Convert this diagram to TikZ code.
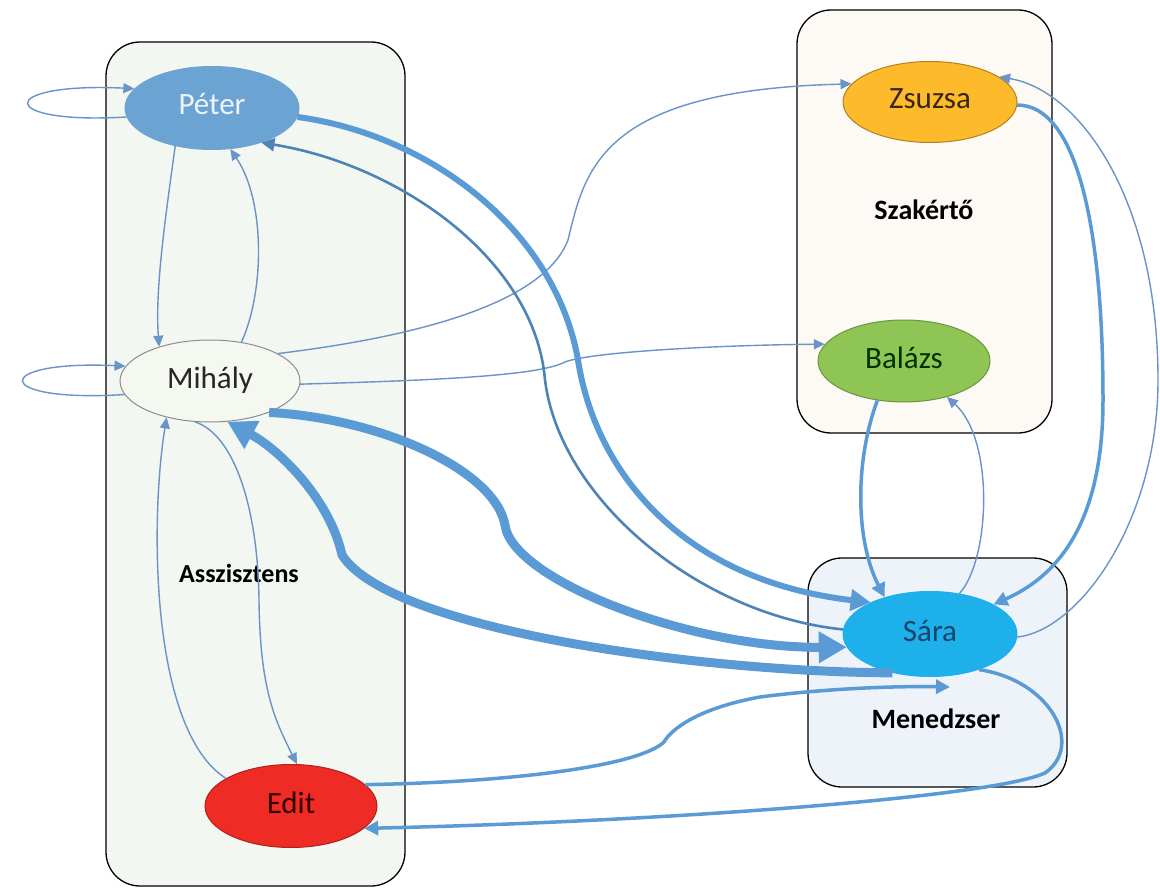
\documentclass[tikz,border=0pt]{standalone}
\usepackage{fontspec}
\setmainfont{Carlito}
\usetikzlibrary{shapes.geometric,arrows.meta}
\definecolor{edgec}{HTML}{5B9BD5}
\definecolor{thinc}{HTML}{6A93C8}
\definecolor{asszfill}{HTML}{F3F7F1}
\definecolor{szakfill}{HTML}{FDFAF6}
\definecolor{menfill}{HTML}{EEF3FA}
\definecolor{peterc}{HTML}{6BA3D3}
\definecolor{mihalyc}{HTML}{F4F8F1}
\definecolor{editc}{HTML}{EE2B24}
\definecolor{zsuzsac}{HTML}{FDBA2A}
\definecolor{balazsc}{HTML}{8FC555}
\definecolor{sarac}{HTML}{1DB0EB}
\definecolor{saratext}{HTML}{17456B}
\begin{document}
\begin{tikzpicture}[x=1pt,y=-1pt,
  box/.style={draw=black, line width=1.3pt, rounded corners=34pt, rectangle, inner sep=0pt},
  person/.style={ellipse, inner sep=0pt, minimum width=174pt, minimum height=83pt,
    font=\fontsize{31}{33}\selectfont, text height=18pt, text depth=4pt, line width=1pt},
  lab/.style={font=\fontsize{28}{30}\selectfont\bfseries, anchor=base, inner sep=0pt},
  thinedge/.style={draw=thinc, line width=1.4pt, -{Triangle[length=11pt,width=10pt]}},
  mededge/.style={draw=edgec, line width=3.5pt, -{Triangle[length=14pt,width=14pt]}},
  thickedge/.style={draw=edgec, line width=6pt, -{Triangle[length=20pt,width=21pt]}},
  hugeedge/.style={draw=edgec, line width=9pt, -{Triangle[length=28pt,width=30pt]}},
]
\useasboundingbox (0,0) rectangle (1160,888);
\fill[white] (0,0) rectangle (1160,888);

% group boxes
\node[box, fill=asszfill, minimum width=299pt, minimum height=844pt] (asszbox) at (255.5,464) {};
\node[box, fill=szakfill, minimum width=255pt, minimum height=423pt] (szakbox) at (924.5,221.5) {};
\node[box, fill=menfill, minimum width=259pt, minimum height=229pt] (menbox) at (937.5,672.5) {};

\node[lab, font=\fontsize{26}{28}\selectfont\bfseries] (asszlab) at (239,582) {Asszisztens};
\node[lab] (szaklab) at (924,219) {Szakértő};
\node[lab] (menlab) at (936,728) {Menedzser};

% persons
\node[person, fill=peterc, draw=peterc, text=white!88!peterc] (peter) at (212,108) {Péter};
\node[person, fill=mihalyc, draw=black!45, text=black!85, minimum width=180pt, minimum height=82pt] (mihaly) at (210,381) {Mihály};
\node[person, fill=editc, draw=editc!75!black, text=black!80!red, minimum width=172pt] (edit) at (291,806) {Edit};
\node[person, fill=zsuzsac, draw=zsuzsac!70!black, text=black!70!brown, minimum height=81pt] (zsuzsa) at (930,102) {Zsuzsa};
\node[person, fill=balazsc, draw=balazsc!75!black, text=black!80!green, minimum width=172pt, minimum height=82pt] (balazs) at (904,361) {Balázs};
\node[person, fill=sarac, draw=sarac, text=saratext, minimum height=85pt] (sara) at (930,634) {Sára};

\coordinate (saraIn) at (950,687);

% self loops
\draw[thinedge] (peter.186) .. controls (-5,125) and (-5,82) .. (peter.166);
\draw[thinedge] (mihaly.189) .. controls (-10,403) and (-10,360) .. (mihaly.170);

% Peter <-> Mihaly
\draw[thinedge] (peter.226) .. controls (165,220) and (155,290) .. (mihaly.146);
\draw[thinedge] (mihaly.51) .. controls (265,290) and (265,200) .. (peter.294);

% Mihaly -> Zsuzsa, Mihaly -> Balazs
\draw[thinedge] (mihaly.22) .. controls (430,335) and (545,300) .. (568,240)
  .. controls (585,170) and (600,90) .. (zsuzsa.167);
\draw[thinedge] (mihaly.-2) .. controls (450,380) and (540,375) .. (565,362)
  .. controls (590,352) and (720,345) .. (balazs.168);

% Peter <-> Sara
\draw[thickedge] (peter.-6) .. controls (430,135) and (555,230) .. (578,360)
  .. controls (595,470) and (680,580) .. (sara.152);
\draw[draw=edgec!85!black, line width=2.6pt, -{Triangle[length=13pt,width=13pt]}]
  (sara.177) .. controls (700,615) and (560,500) .. (545,380)
  .. controls (535,260) and (400,165) .. (peter.325);

% Mihaly <-> Sara (thick)
\draw[hugeedge] (mihaly.-28) .. controls (380,418) and (495,470) .. (505,525)
  .. controls (512,580) and (690,648) .. (sara.189);
\draw[hugeedge] (sara.226) .. controls (700,672) and (390,630) .. (342,555)
  .. controls (330,500) and (280,450) .. (mihaly.293);

% Edit <-> Sara
\draw[mededge] (edit.16) .. controls (520,782) and (640,765) .. (664,742)
  .. controls (672,728) and (700,708) .. (760,697)
  .. controls (830,688) and (900,686) .. (saraIn);
\draw[mededge] (sara.-36) .. controls (1050,680) and (1085,745) .. (1045,773)
  .. controls (990,798) and (650,822) .. (edit.-17);

% Mihaly <-> Edit
\draw[thinedge] (mihaly.250) .. controls (235,435) and (258,510) .. (259,600)
  .. controls (260,690) and (275,720) .. (edit.82);
\draw[thinedge] (edit.157) .. controls (150,730) and (150,520) .. (mihaly.220);

% Balazs <-> Sara
\draw[mededge] (balazs.236) .. controls (855,460) and (855,540) .. (sara.141);
\draw[thinedge] (sara.54) .. controls (990,560) and (995,440) .. (balazs.-40);

% Zsuzsa <-> Sara
\draw[mededge] (zsuzsa.-2) .. controls (1075,105) and (1103,220) .. (1103,400)
  .. controls (1103,520) and (1060,575) .. (sara.25);
\draw[thinedge] (sara.-2) .. controls (1080,630) and (1158,520) .. (1158,380)
  .. controls (1158,200) and (1080,90) .. (zsuzsa.20);
\end{tikzpicture}
\end{document}
